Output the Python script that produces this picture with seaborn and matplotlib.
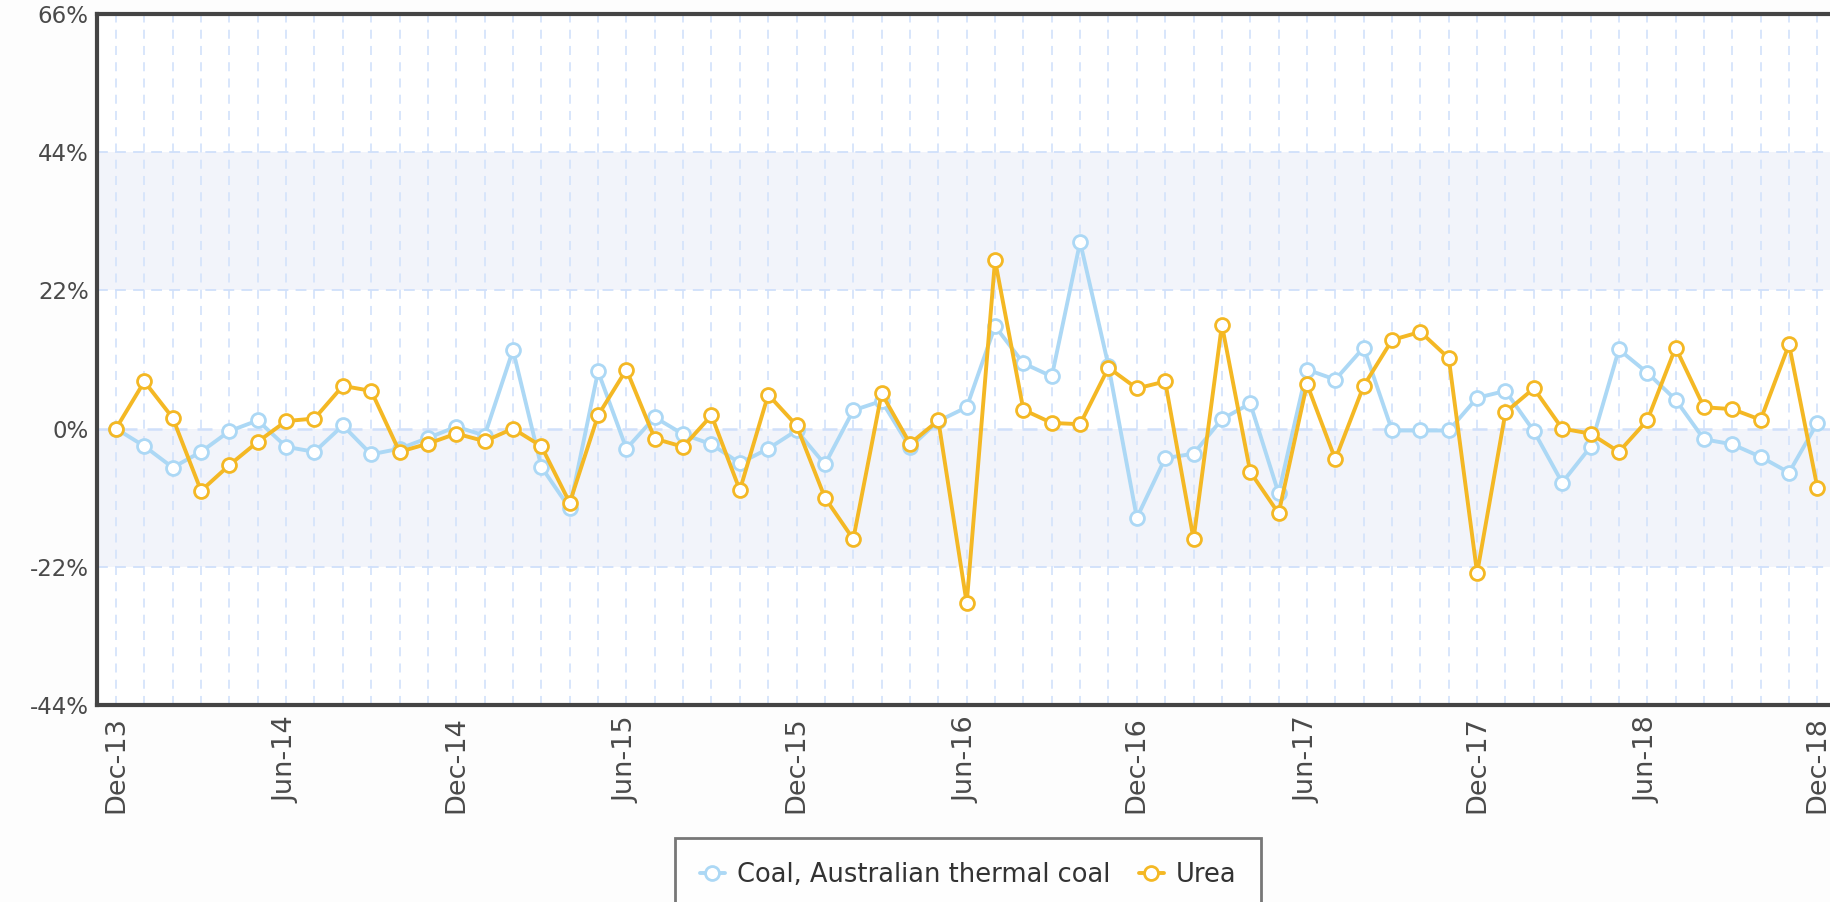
import matplotlib
matplotlib.use("Agg")
import matplotlib.pyplot as plt
from matplotlib.lines import Line2D
import pandas as pd
import seaborn as sns


MONTHS = pd.date_range("2013-12-01", periods=61, freq="MS").strftime("%b-%y").tolist()

COAL = [
    0.0, -2.8, -6.2, -3.7, -0.4, 1.3, -2.9, -3.7, 0.5, -4.1,
    -3.2, -1.5, 0.3, -1.1, 12.5, -6.1, -12.7, 9.1, -3.2, 1.8,
    -0.9, -2.5, -5.5, -3.2, -0.3, -5.7, 2.9, 4.4, -3.0, 1.2,
    3.4, 16.3, 10.4, 8.3, 29.7, 10.0, -14.2, -4.7, -4.0, 1.5,
    4.0, -10.3, 9.4, 7.8, 12.9, -0.3, -0.3, -0.3, 4.9, 6.0,
    -0.4, -8.6, -2.9, 12.6, 8.9, 4.6, -1.7, -2.5, -4.5, -7.0,
    0.9,
]
UREA = [
    0.0, 7.5, 1.7, -9.9, -5.8, -2.1, 1.2, 1.6, 6.8, 6.0,
    -3.7, -2.4, -0.8, -2.0, 0.0, -2.8, -11.8, 2.1, 9.4, -1.6,
    -2.9, 2.1, -9.8, 5.4, 0.5, -11.0, -17.6, 5.6, -2.4, 1.3,
    -27.8, 26.8, 3.0, 0.9, 0.7, 9.7, 6.4, 7.5, -17.6, 16.5,
    -6.9, -13.5, 7.1, -4.9, 6.8, 14.1, 15.4, 11.2, -23.0, 2.6,
    6.4, 0.0, -0.8, -3.7, 1.3, 12.9, 3.4, 3.1, 1.4, 13.4,
    -9.4,
]
SERIES = ["Coal, Australian thermal coal", "Urea"]
COLORS = ["#acd8f5", "#f4b824"]
Y_TICKS = [-44, -22, 0, 22, 44, 66]
X_TICKS = list(range(0, 61, 6))

df = pd.DataFrame({"month": range(len(MONTHS)), SERIES[0]: COAL, SERIES[1]: UREA})
long_df = df.melt(id_vars="month", var_name="series", value_name="change")

sns.set_theme(style="white")
plt.rcParams["font.family"] = ["DejaVu Sans"]

fig = plt.figure(figsize=(18.31, 9.02), dpi=100, facecolor="#fdfdfd")
ax = fig.add_axes([97 / 1831, 1 - 705 / 902, 1 - 97 / 1831, (705 - 14) / 902])
ax.set_facecolor("white")

# shaded bands and grid
for lo, hi in [(-22, 0), (22, 44)]:
    ax.axhspan(lo, hi, color="#f2f4fa", zorder=0, lw=0)
for m in range(len(MONTHS)):
    ax.axvline(m, color="#d6e4fb", lw=1.3, ls=(0, (5, 4)), zorder=1)
for y in Y_TICKS[1:-1]:
    ax.axhline(y, color="#d0e0fa", lw=1.8 if y == 0 else 1.3, ls=(0, (6, 4)), zorder=1)

for name, color in zip(SERIES, COLORS):
    sns.lineplot(
        data=long_df[long_df["series"] == name], x="month", y="change",
        color=color, lw=2.8, marker="o", markersize=10,
        markerfacecolor="white", markeredgecolor=color, markeredgewidth=2,
        ax=ax, zorder=3, legend=False,
    )

ax.set_xlim(-0.67, 60.48)
ax.set_ylim(-44, 66)
ax.set_yticks(Y_TICKS)
ax.set_yticklabels([f"{v}%" for v in Y_TICKS])
ax.set_xticks(X_TICKS)
ax.set_xticklabels([MONTHS[i] for i in X_TICKS], rotation=90)
ax.set_xlabel("")
ax.set_ylabel("")
ax.tick_params(axis="y", length=0, pad=6, labelsize=16.5, labelcolor="#4a4a4a")
ax.tick_params(axis="x", length=0, pad=8, labelsize=19.5, labelcolor="#4a4a4a")

for side in ["left", "top", "bottom"]:
    ax.spines[side].set_color("#444444")
    ax.spines[side].set_linewidth(3)
ax.spines["right"].set_visible(False)

handles = [
    Line2D([], [], color=c, lw=2.8, marker="o", markersize=10,
           markerfacecolor="white", markeredgecolor=c, markeredgewidth=2)
    for c in COLORS
]
leg = fig.legend(
    handles, SERIES, loc="upper center", bbox_to_anchor=(968 / 1831, 1 - 838 / 902),
    ncol=2, fontsize=18.5, frameon=True, fancybox=False, handlelength=1.0,
    columnspacing=1.1, borderpad=0.95, handletextpad=0.45, borderaxespad=0,
)
leg.get_frame().set_edgecolor("#555555")
leg.get_frame().set_linewidth(2)
for t in leg.get_texts():
    t.set_color("#333333")

fig.savefig("out.png", dpi=100, facecolor=fig.get_facecolor())
